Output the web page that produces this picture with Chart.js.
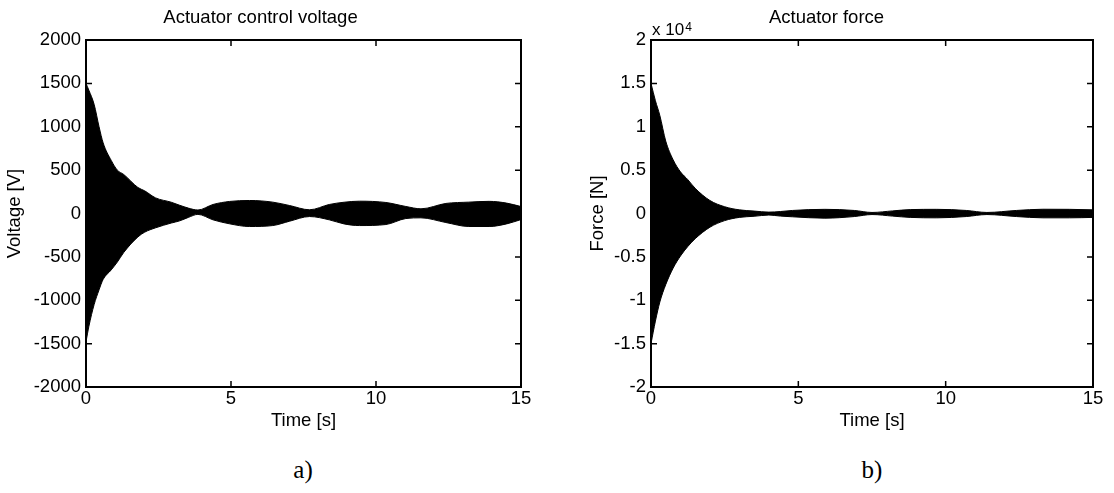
<!DOCTYPE html>
<html>
<head>
<meta charset="utf-8">
<script src="https://cdn.jsdelivr.net/npm/chart.js@4.4.1/dist/chart.umd.min.js"></script>
<style>
  html, body { margin: 0; padding: 0; background: #fff; }
  #wrap { position: relative; width: 1114px; height: 493px; overflow: hidden; background: #fff; }
  canvas { position: absolute; top: 0; }
  #c1 { left: 0; }
  #c2 { left: 560px; }
  .lbl { position: absolute; font-family: "Liberation Serif", "Times New Roman", serif; font-size: 25px; color: #000; white-space: nowrap; transform: translateX(-50%); line-height: 30px; }
  #exp { position: absolute; left: 652px; top: 21px; font-family: "Liberation Sans", Arial, sans-serif; font-size: 17px; line-height: 17px; color: #000; white-space: nowrap; }
  #exp sup { font-size: 12px; position: relative; top: -2px; vertical-align: top; margin-left: 1px; }
</style>
</head>
<body>
<div id="wrap">
  <canvas id="c1" width="560" height="440"></canvas>
  <canvas id="c2" width="554" height="440"></canvas>
  <div id="exp">x 10<sup>4</sup></div>
  <div class="lbl" style="left:303px; top:455px;">a)</div>
  <div class="lbl" style="left:872px; top:455px;">b)</div>
</div>
<script>
// ---- Data (envelope of the oscillating signals) ----
const voltTime  = [0, 0.1, 0.28, 0.45, 0.59, 0.87, 1.08, 1.3, 1.79, 2.02, 2.4, 2.94, 3.23, 3.53, 3.86, 4.38, 4.95, 5.64, 6.44, 7.02, 7.71, 8.39, 8.9, 9.43, 10.34, 11.03, 11.55, 12.41, 13.2, 13.9, 14.5, 15];
const voltUpper = [1500, 1420, 1258, 1000, 815, 612, 500, 450, 300, 262, 180, 130, 95, 62, 40, 104, 139, 150, 131, 92, 43, 104, 130, 142, 127, 81, 54, 116, 131, 140, 120, 80];
const voltLower = [-1480, -1300, -1050, -880, -760, -650, -560, -450, -270, -216, -165, -110, -85, -45, -10, -73, -119, -150, -139, -89, -35, -73, -120, -139, -127, -58, -50, -104, -150, -150, -120, -70];

const forceTime  = [0, 0.15, 0.3, 0.5, 0.75, 1.0, 1.25, 1.5, 2.0, 2.5, 3.0, 3.5, 4.0, 4.4, 4.8, 5.9, 6.9, 7.5, 8.2, 8.8, 9.7, 10.7, 11.4, 12.4, 13.3, 14.2, 15];
const forceUpper = [15000, 13000, 11300, 8350, 6200, 4800, 3900, 2900, 1500, 780, 420, 280, 160, 230, 350, 480, 350, 120, 300, 450, 480, 350, 120, 350, 490, 480, 420];
const forceLower = [-15000, -12400, -10200, -8200, -6300, -4900, -3800, -2900, -1580, -820, -450, -320, -180, -300, -380, -540, -350, -120, -300, -450, -500, -350, -120, -350, -500, -500, -450];

const timeTicks  = [0, 5, 10, 15];
const voltTicks  = [-2000, -1500, -1000, -500, 0, 500, 1000, 1500, 2000];
const forceTicks = [-20000, -15000, -10000, -5000, 0, 5000, 10000, 15000, 20000];
const forceTickLabels = ['-2', '-1.5', '-1', '-0.5', '0', '0.5', '1', '1.5', '2'];

// ---- Helpers ----
const FONT = '"Liberation Sans", Arial, Helvetica, sans-serif';
const zip = (xs, ys) => xs.map((x, i) => ({ x: x, y: ys[i] }));

const boxTicks = {
  id: 'boxTicks',
  afterDatasetsDraw(chart) {
    const { ctx, chartArea: a, scales } = chart;
    const x = scales.x, y = scales.y;
    ctx.save();
    ctx.strokeStyle = '#000';
    ctx.lineWidth = 1.5;
    const L = 6;
    ctx.beginPath();
    x.ticks.forEach(t => {
      const px = x.getPixelForValue(t.value);
      ctx.moveTo(px, a.bottom); ctx.lineTo(px, a.bottom - L);
      ctx.moveTo(px, a.top); ctx.lineTo(px, a.top + L);
    });
    y.ticks.forEach(t => {
      const py = y.getPixelForValue(t.value);
      ctx.moveTo(a.left, py); ctx.lineTo(a.left + L, py);
      ctx.moveTo(a.right, py); ctx.lineTo(a.right - L, py);
    });
    ctx.stroke();
    ctx.lineWidth = 2;
    ctx.strokeRect(a.left, a.top, a.right - a.left, a.bottom - a.top);
    ctx.restore();
  }
};

function makeChart(id, cfg) {
  const envDs = (data) => ({
    data: data,
    borderColor: '#000',
    backgroundColor: '#000',
    borderWidth: 1,
    pointRadius: 0,
    cubicInterpolationMode: 'monotone'
  });
  return new Chart(document.getElementById(id), {
    type: 'line',
    data: {
      datasets: [
        Object.assign(envDs(zip(cfg.time, cfg.upper)), { fill: '+1' }),
        Object.assign(envDs(zip(cfg.time, cfg.lower)), { fill: false })
      ]
    },
    options: {
      responsive: false,
      animation: false,
      devicePixelRatio: 1,
      layout: { padding: { left: 0, right: cfg.padRight, top: 0, bottom: 0 } },
      plugins: {
        legend: { display: false },
        tooltip: { enabled: false },
        title: {
          display: true,
          text: cfg.title,
          color: '#000',
          font: { family: FONT, size: 18.5, weight: 'normal' },
          padding: { top: 7, bottom: 10.8 }
        }
      },
      scales: {
        x: {
          type: 'linear',
          min: 0, max: 15,
          afterBuildTicks: s => { s.ticks = timeTicks.map(v => ({ value: v })); },
          afterFit: s => { s.height = 53; },
          grid: { display: false, drawTicks: false },
          border: { display: false },
          ticks: { color: '#000', padding: 1, maxRotation: 0, autoSkip: false, font: { family: FONT, size: 18.5 } },
          title: { display: true, text: 'Time [s]', color: '#000', font: { family: FONT, size: 18.5 }, padding: { top: 0, bottom: 8 } }
        },
        y: {
          type: 'linear',
          min: cfg.yTicks[0], max: cfg.yTicks[cfg.yTicks.length - 1],
          afterBuildTicks: s => { s.ticks = cfg.yTicks.map(v => ({ value: v })); },
          afterFit: s => { s.width = cfg.yWidth; },
          grid: { display: false, drawTicks: false },
          border: { display: false },
          ticks: {
            color: '#000', padding: 5, autoSkip: false,
            font: { family: FONT, size: 18.5 },
            callback: cfg.yLabel
          },
          title: { display: true, text: cfg.yTitle, color: '#000', font: { family: FONT, size: 18.5 }, padding: { top: cfg.yTitlePad, bottom: 0 } }
        }
      }
    },
    plugins: [boxTicks]
  });
}

makeChart('c1', {
  time: voltTime, upper: voltUpper, lower: voltLower,
  title: 'Actuator control voltage',
  yTitle: 'Voltage [V]',
  yTicks: voltTicks,
  yLabel: v => String(v),
  yWidth: 86, padRight: 39, yTitlePad: 4
});

makeChart('c2', {
  time: forceTime, upper: forceUpper, lower: forceLower,
  title: 'Actuator force',
  yTitle: 'Force [N]',
  yTicks: forceTicks,
  yLabel: v => forceTickLabels[forceTicks.indexOf(v)],
  yWidth: 91, padRight: 21, yTitlePad: 27
});
</script>
</body>
</html>
